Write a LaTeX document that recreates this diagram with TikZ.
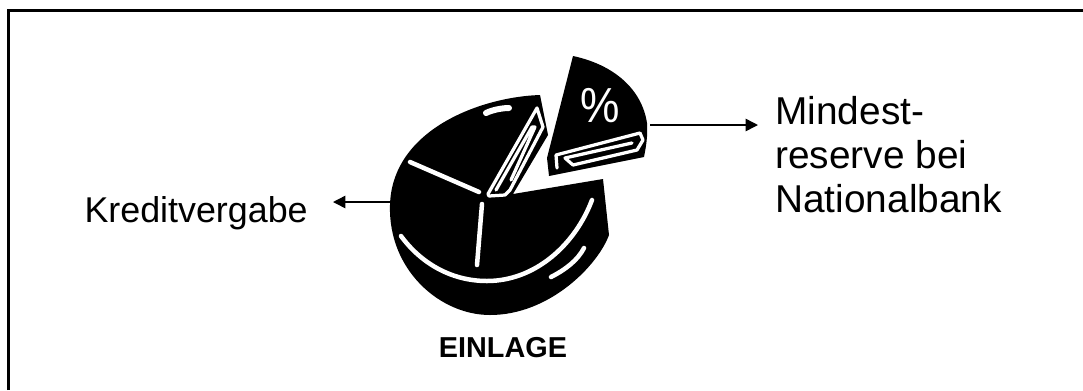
\documentclass[tikz,border=0pt]{standalone}
\usepackage{fontspec}
\setmainfont{Liberation Sans}
\usetikzlibrary{arrows.meta}
\definecolor{PieBlack}{HTML}{000000}
\tikzset{
  pieline/.style={draw=white,line width=0.09cm,line cap=round,line join=round},
  pieclip/.style={draw=white,line width=0.065cm,line cap=round,line join=round},
  flowarrow/.style={draw=black,line width=0.03cm,-{Triangle[length=0.25cm,width=0.25cm]}},
  labeltext/.style={inner ysep=0pt,align=left}
}
\begin{document}
\begin{tikzpicture}[x=0.02cm,y=-0.02cm]
\path[use as bounding box] (0,0) rectangle (1083,390);
% frame
\draw[black,line width=0.06cm] (8.5,390) -- (8.5,10) -- (1083,10);
% big slice
\fill[PieBlack] (540,95) .. controls (480,97) and (392,130) .. (390,205) .. controls (388,270) and (440,315) .. (490,315) .. controls (550,315) and (598,265) .. (609,235) -- (603,179) -- (513,194) -- (548,135) -- cycle;
\draw[pieline] (410,162) -- (479,192);
\draw[pieline] (482,204) -- (477,265);
\draw[pieline] (401,236) .. controls (420,262) and (450,281) .. (487,281) .. controls (535,281) and (575,245) .. (592,200);
\draw[pieline] (551,277) .. controls (565,270) and (578,260) .. (584,248);
\draw[pieline,line width=0.12cm] (486,113) .. controls (492,110) and (502,108) .. (509,108);
% clip in the big slice
\draw[pieclip] (488,194) -- (537,108) -- (543,127) -- (510,190) -- (505,195) -- (489,196) -- cycle;
\draw[pieclip] (496,190) -- (532,127) -- (535,127) -- (511,180);
% small slice
\fill[PieBlack] (573,56) .. controls (615,65) and (642,90) .. (647,123) .. controls (648,135) and (646,147) .. (644,157) -- (549,176) -- (547,158) -- cycle;
\draw[pieclip] (557,168) -- (556,155) -- (640,133) -- (643,140) -- (637,150) -- (573,165) -- (565,158) -- (632,143);
\node[white,inner sep=0pt,font=\fontsize{28}{28}\selectfont,xscale=0.9] (percent) at (600,106) {\%};
% labels
\node[labeltext,font=\fontsize{20.4}{25}\selectfont,inner xsep=0.5cm,anchor=base east] (kredit) at (333,222) {Kreditvergabe};
\node[labeltext,font=\fontsize{22.1}{25}\selectfont,inner xsep=0.34cm,anchor=north west] (reserve) at (758,96) {Mindest-\\reserve bei\\Nationalbank};
\node[inner sep=0pt,font=\fontsize{16.4}{16.4}\selectfont\bfseries] (einlage) at (503,348) {EINLAGE};
% arrows
\coordinate (pieleft) at (390,202);
\coordinate (pieright) at (650,125);
\draw[flowarrow] (pieleft) -- (kredit.east |- pieleft);
\draw[flowarrow] (pieright) -- (reserve.west |- pieright);
\end{tikzpicture}
\end{document}
